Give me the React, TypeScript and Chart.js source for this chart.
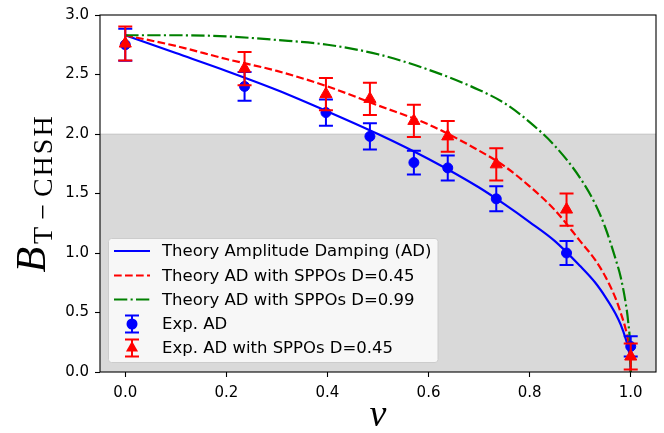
import React, { useEffect, useRef } from "react";
import { Chart, registerables } from "chart.js";

Chart.register(...registerables);

// ---- axes ----
const xTickValues = [0, 0.2, 0.4, 0.6, 0.8, 1.0];
const yTickValues = [0, 0.5, 1.0, 1.5, 2.0, 2.5, 3.0];
const xRange = [-0.05, 1.05];
const yRange = [0, 3];
const classicalBound = 2;

// ---- theory curves ----
const theoryV = [0, 0.1, 0.2, 0.3, 0.4, 0.5, 0.6, 0.7, 0.75, 0.8, 0.85, 0.9, 0.93, 0.95, 0.97, 0.98, 0.99, 0.995, 0.999, 1.0];
const theoryAD = [2.83, 2.68, 2.53, 2.37, 2.19, 2.0, 1.79, 1.55, 1.41, 1.26, 1.1, 0.89, 0.75, 0.63, 0.49, 0.4, 0.28, 0.2, 0.09, 0];
const theoryD045 = [2.83, 2.74, 2.63, 2.53, 2.4, 2.24, 2.08, 1.86, 1.73, 1.56, 1.36, 1.1, 0.94, 0.8, 0.62, 0.5, 0.36, 0.26, 0.12, 0];
const theoryD099 = [2.83, 2.83, 2.82, 2.79, 2.75, 2.67, 2.54, 2.37, 2.26, 2.1, 1.9, 1.63, 1.41, 1.21, 0.95, 0.8, 0.58, 0.42, 0.19, 0];

// ---- experimental points ----
const expV = [0, 0.236, 0.397, 0.484, 0.571, 0.638, 0.734, 0.873, 1.0];
const expAD = [2.75, 2.4, 2.18, 1.98, 1.76, 1.715, 1.455, 1.0, 0.215];
const expADErr = [0.135, 0.12, 0.11, 0.11, 0.1, 0.105, 0.105, 0.1, 0.085];
const expSPPO = [2.76, 2.55, 2.335, 2.295, 2.11, 1.98, 1.745, 1.365, 0.13];
const expSPPOErr = [0.143, 0.14, 0.135, 0.135, 0.135, 0.13, 0.135, 0.135, 0.11];

const legendLabels = [
  "Theory Amplitude Damping (AD)",
  "Theory AD with SPPOs D=0.45",
  "Theory AD with SPPOs D=0.99",
  "Exp. AD",
  "Exp. AD with SPPOs D=0.45",
];

const BLUE = "#0000ff";
const RED = "#ff0000";
const GREEN = "#008000";
const TICK_FONT = "DejaVu Sans";
const LW = 2.2;

const pts = (xs: number[], ys: number[]) => xs.map((x, i) => ({ x, y: ys[i] }));

const shadePlugin = {
  id: "shade",
  beforeDatasetsDraw(chart: any) {
    const { ctx, chartArea: a, scales } = chart;
    const top = scales.y.getPixelForValue(classicalBound);
    const bottom = scales.y.getPixelForValue(yRange[0]);
    ctx.save();
    ctx.fillStyle = "rgba(128,128,128,0.3)";
    ctx.fillRect(a.left, top, a.right - a.left, bottom - top);
    ctx.strokeStyle = "rgba(128,128,128,0.3)";
    ctx.lineWidth = 1.2;
    ctx.beginPath();
    ctx.moveTo(a.left, top);
    ctx.lineTo(a.right, top);
    ctx.stroke();
    ctx.restore();
  },
};

const errorBarPlugin = {
  id: "errbars",
  beforeDatasetDraw(chart: any, args: any) {
    const ds = chart.data.datasets[args.index];
    if (!ds.errors) return;
    const { ctx, scales } = chart;
    ctx.save();
    ctx.strokeStyle = ds.borderColor;
    ctx.lineWidth = 2;
    ds.data.forEach((p: any, i: number) => {
      const px = scales.x.getPixelForValue(p.x);
      const e = ds.errors[i];
      const y1 = scales.y.getPixelForValue(p.y + e);
      const y2 = scales.y.getPixelForValue(p.y - e);
      ctx.beginPath();
      ctx.moveTo(px, y1);
      ctx.lineTo(px, y2);
      ctx.moveTo(px - 7, y1);
      ctx.lineTo(px + 7, y1);
      ctx.moveTo(px - 7, y2);
      ctx.lineTo(px + 7, y2);
      ctx.stroke();
    });
    ctx.restore();
  },
};

function drawTriangle(ctx: CanvasRenderingContext2D, x: number, y: number, r: number) {
  let rad = 0;
  ctx.beginPath();
  ctx.moveTo(x + Math.sin(rad) * r, y - Math.cos(rad) * r);
  rad += (2 * Math.PI) / 3;
  ctx.lineTo(x + Math.sin(rad) * r, y - Math.cos(rad) * r);
  rad += (2 * Math.PI) / 3;
  ctx.lineTo(x + Math.sin(rad) * r, y - Math.cos(rad) * r);
  ctx.closePath();
}

const decorPlugin = {
  id: "decor",
  afterDraw(chart: any) {
    const { ctx, chartArea: a } = chart;
    ctx.save();
    // frame
    ctx.strokeStyle = "#000";
    ctx.lineWidth = 1.1;
    ctx.strokeRect(a.left, a.top, a.right - a.left, a.bottom - a.top);

    // legend
    const lx = 108.5, ly = 238.5, lw = 329.5, lh = 124;
    ctx.beginPath();
    const r = 3;
    ctx.moveTo(lx + r, ly);
    ctx.lineTo(lx + lw - r, ly);
    ctx.arcTo(lx + lw, ly, lx + lw, ly + r, r);
    ctx.lineTo(lx + lw, ly + lh - r);
    ctx.arcTo(lx + lw, ly + lh, lx + lw - r, ly + lh, r);
    ctx.lineTo(lx + r, ly + lh);
    ctx.arcTo(lx, ly + lh, lx, ly + lh - r, r);
    ctx.lineTo(lx, ly + r);
    ctx.arcTo(lx, ly, lx + r, ly, r);
    ctx.closePath();
    ctx.fillStyle = "rgba(255,255,255,0.8)";
    ctx.fill();
    ctx.strokeStyle = "#cccccc";
    ctx.lineWidth = 1;
    ctx.stroke();

    const rows = [251, 275.5, 299.5, 324, 348];
    const hx0 = 114, hx1 = 150, hc = 132;
    const lineStyles = [
      { c: BLUE, d: [] as number[] },
      { c: RED, d: [7.7, 3.3] },
      { c: GREEN, d: [13.3, 3.3, 2.1, 3.3] },
    ];
    lineStyles.forEach((s, i) => {
      ctx.beginPath();
      ctx.setLineDash(s.d);
      ctx.strokeStyle = s.c;
      ctx.lineWidth = LW;
      ctx.moveTo(hx0, rows[i]);
      ctx.lineTo(hx1, rows[i]);
      ctx.stroke();
    });
    ctx.setLineDash([]);
    [BLUE, RED].forEach((c, k) => {
      const y = rows[3 + k];
      ctx.strokeStyle = c;
      ctx.fillStyle = c;
      ctx.lineWidth = 2;
      ctx.beginPath();
      ctx.moveTo(hc, y - 8.5);
      ctx.lineTo(hc, y + 8.5);
      ctx.moveTo(hc - 7, y - 8.5);
      ctx.lineTo(hc + 7, y - 8.5);
      ctx.moveTo(hc - 7, y + 8.5);
      ctx.lineTo(hc + 7, y + 8.5);
      ctx.stroke();
      if (k === 0) {
        ctx.beginPath();
        ctx.arc(hc, y, 5.5, 0, Math.PI * 2);
        ctx.fill();
      } else {
        drawTriangle(ctx, hc, y, 7);
        ctx.fill();
      }
    });
    ctx.fillStyle = "#000";
    ctx.font = `16.5px "${TICK_FONT}"`;
    ctx.textBaseline = "middle";
    ctx.textAlign = "left";
    legendLabels.forEach((t, i) => ctx.fillText(t, 162, rows[i] + 1));

    // x label
    ctx.font = 'italic 38px "Liberation Serif"';
    ctx.textAlign = "center";
    ctx.textBaseline = "alphabetic";
    ctx.fillText("v", (a.left + a.right) / 2, 426);

    // y label
    ctx.save();
    const cy = (a.top + a.bottom) / 2;
    ctx.translate(45, cy);
    ctx.rotate(-Math.PI / 2);
    ctx.textAlign = "left";
    const fB = 'italic 42px "Liberation Serif"';
    const fS = '28px "Liberation Serif"';
    const subParts = ["T", "\u2212", "CHSH"];
    const opGap = 5;
    (ctx as any).letterSpacing = "0px";
    ctx.font = fB;
    const wB = ctx.measureText("B").width;
    ctx.font = fS;
    (ctx as any).letterSpacing = "2px";
    const widths = subParts.map((s) => ctx.measureText(s).width);
    const wS = widths[0] + widths[1] + widths[2] + 2 * opGap;
    const start = -(wB + 3 + wS) / 2;
    (ctx as any).letterSpacing = "0px";
    ctx.font = fB;
    ctx.fillText("B", start, 0);
    ctx.font = fS;
    (ctx as any).letterSpacing = "2px";
    let px = start + wB + 3;
    ctx.fillText(subParts[0], px, 7);
    px += widths[0] + opGap;
    ctx.fillText(subParts[1], px, 7);
    px += widths[1] + opGap;
    ctx.fillText(subParts[2], px, 7);
    ctx.restore();

    ctx.restore();
  },
};

export default function App() {
  const ref = useRef<HTMLCanvasElement | null>(null);
  useEffect(() => {
    if (!ref.current) return;
    const lineDs = (label: string, ys: number[], color: string, dash: number[], order: number) => ({
      label,
      data: pts(theoryV, ys),
      showLine: true,
      borderColor: color,
      backgroundColor: color,
      borderWidth: LW,
      borderDash: dash,
      pointRadius: 0,
      cubicInterpolationMode: "monotone",
      order,
    });
    const chart = new Chart(ref.current, {
      type: "scatter",
      data: {
        datasets: [
          lineDs(legendLabels[0], theoryAD, BLUE, [], 5) as any,
          lineDs(legendLabels[1], theoryD045, RED, [7.7, 3.3], 4) as any,
          lineDs(legendLabels[2], theoryD099, GREEN, [13.3, 3.3, 2.1, 3.3], 3) as any,
          {
            label: legendLabels[3],
            data: pts(expV, expAD),
            errors: expADErr,
            showLine: false,
            pointStyle: "circle",
            pointRadius: 5,
            pointBorderWidth: 1,
            borderColor: BLUE,
            backgroundColor: BLUE,
            order: 2,
          } as any,
          {
            label: legendLabels[4],
            data: pts(expV, expSPPO),
            errors: expSPPOErr,
            showLine: false,
            pointStyle: "triangle",
            pointRadius: 7,
            pointBorderWidth: 1,
            borderColor: RED,
            backgroundColor: RED,
            order: 1,
          } as any,
        ],
      },
      options: {
        animation: false,
        responsive: false,
        devicePixelRatio: 1,
        events: [],
        layout: { padding: { top: 12, right: 8, left: 0, bottom: 0 } },
        plugins: { legend: { display: false }, tooltip: { enabled: false } },
        scales: {
          x: {
            type: "linear",
            min: xRange[0],
            max: xRange[1],
            afterBuildTicks: (s: any) => {
              s.ticks = xTickValues.map((v) => ({ value: v }));
            },
            afterFit: (s: any) => {
              s.height = 61;
            },
            grid: { drawOnChartArea: false, drawTicks: true, tickLength: 5, tickColor: "#000", tickWidth: 1.1 },
            border: { display: false },
            ticks: {
              padding: 7,
              color: "#000",
              font: { family: TICK_FONT, size: 15 },
              maxRotation: 0,
              autoSkip: false,
              callback: (v: any) => Number(v).toFixed(1),
            },
          },
          y: {
            type: "linear",
            min: yRange[0],
            max: yRange[1],
            afterBuildTicks: (s: any) => {
              s.ticks = yTickValues.map((v) => ({ value: v }));
            },
            afterFit: (s: any) => {
              s.width = 100;
            },
            grid: { drawOnChartArea: false, drawTicks: true, tickLength: 5, tickColor: "#000", tickWidth: 1.1 },
            border: { display: false },
            ticks: {
              padding: 6,
              color: "#000",
              font: { family: TICK_FONT, size: 15 },
              autoSkip: false,
              callback: (v: any) => Number(v).toFixed(1),
            },
          },
        },
      } as any,
      plugins: [shadePlugin, errorBarPlugin, decorPlugin],
    });
    return () => chart.destroy();
  }, []);
  return (
    <div style={{ position: "fixed", left: 0, top: 0, width: 664, height: 433, background: "#fff" }}>
      <canvas ref={ref} width={664} height={433} style={{ display: "block", width: 664, height: 433 }} />
    </div>
  );
}
